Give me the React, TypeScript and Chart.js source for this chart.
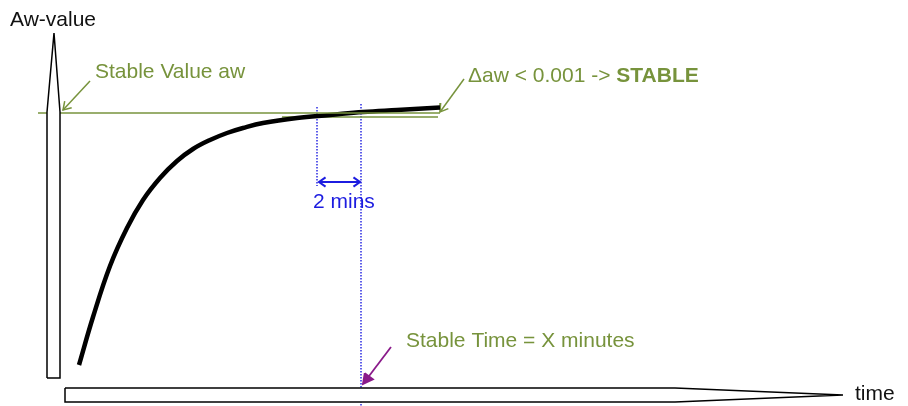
import React, { useEffect, useRef } from "react";
import { Chart, registerables } from "chart.js";

Chart.register(...registerables);

// Diagram space: x = time units (0..908, left to right), y = aw units (0..406, top to bottom)
const X_MIN = 0;
const X_MAX = 908;
const Y_MIN = 0;
const Y_MAX = 406;

// Measured aw response curve
const curveTime = [79, 93, 110, 127, 143, 160, 177, 193, 210, 227, 243, 263, 297, 330, 363, 397, 440];
const curveAw = [365, 317, 266, 228, 200, 178, 161, 149, 140, 133, 128, 123, 118, 115, 112, 110, 107.5];

// Axis arrow outlines
const yAxisX = [47, 47, 54, 60, 60, 47];
const yAxisY = [378, 112, 33, 112, 378, 378];
const xAxisX = [65, 675, 843, 675, 65, 65];
const xAxisY = [388, 388, 395, 402, 402, 388];

// Stable value reference lines
const stableLineX = [38, 440];
const stableLineY = [113, 113];
const stableBandX = [282, 438];
const stableBandY = [117, 117];

// 2-minute window markers
const windowStartX = [317, 317];
const windowStartY = [107, 186];
const windowEndX = [361, 361];
const windowEndY = [104, 406];
const windowArrowX = [319, 360];
const windowArrowY = [182, 182];

// Callout arrows [fromX, fromY, toX, toY]
const calloutStable = [90, 81, 63, 110];
const calloutDelta = [464, 79, 440, 112];
const calloutTime = [391, 347, 363, 384];

const GREEN = "#77933c";
const BLUE = "#1c1ce0";
const PURPLE = "#8a1a8a";

const labelText = ["Aw-value", "Stable Value aw", "\u0394aw < 0.001 -> ", "2 mins", "Stable Time = X minutes", "time"];
const labelX = [10, 95, 468, 313, 406, 855];
const labelY = [26, 78, 82, 208, 347, 400];
const labelColor = ["#111111", GREEN, GREEN, BLUE, GREEN, "#111111"];
const boldSuffix = "STABLE";

type P = { x: number; y: number };

const zip = (xs: number[], ys: number[]): P[] => xs.map((x, i) => ({ x, y: ys[i] }));

function headPoints(fx: number, fy: number, tx: number, ty: number, len: number, halfDeg: number, closed: boolean): P[] {
  const a = Math.atan2(ty - fy, tx - fx);
  const h = (halfDeg * Math.PI) / 180;
  const p1 = { x: tx - len * Math.cos(a - h), y: ty - len * Math.sin(a - h) };
  const p2 = { x: tx - len * Math.cos(a + h), y: ty - len * Math.sin(a + h) };
  return closed ? [p1, { x: tx, y: ty }, p2, p1] : [p1, { x: tx, y: ty }, p2];
}

function seg(data: P[], color: string, width: number, extra: any = {}) {
  return {
    data,
    borderColor: color,
    backgroundColor: color,
    borderWidth: width,
    pointRadius: 0,
    tension: 0,
    fill: false,
    ...extra,
  };
}

function arrowSets(c: number[], color: string, width: number, filled: boolean, len: number) {
  const [fx, fy, tx, ty] = c;
  return [
    seg(zip([fx, tx], [fy, ty]), color, width),
    seg(headPoints(fx, fy, tx, ty, len, filled ? 28 : 32, filled), color, width, filled ? { fill: "shape" } : {}),
  ];
}

const labelPlugin = {
  id: "labels",
  afterDatasetsDraw(chart: any) {
    const { ctx, scales } = chart;
    ctx.save();
    ctx.textBaseline = "alphabetic";
    ctx.textAlign = "left";
    labelText.forEach((t, i) => {
      const px = scales.x.getPixelForValue(labelX[i]);
      const py = scales.y.getPixelForValue(labelY[i]);
      ctx.font = "21px 'Liberation Sans', Arial, sans-serif";
      ctx.fillStyle = labelColor[i];
      ctx.fillText(t, px, py);
      if (i === 2) {
        const w = ctx.measureText(t).width;
        ctx.font = "bold 21px 'Liberation Sans', Arial, sans-serif";
        ctx.fillText(boldSuffix, px + w, py);
      }
    });
    ctx.restore();
  },
};

export default function App() {
  const ref = useRef<HTMLCanvasElement | null>(null);

  useEffect(() => {
    document.body.style.margin = "0";
    const canvas = ref.current;
    if (!canvas) return;

    const datasets: any[] = [
      seg(zip(yAxisX, yAxisY), "#000000", 1.5, { fill: "shape", backgroundColor: "#ffffff" }),
      seg(zip(xAxisX, xAxisY), "#000000", 1.5, { fill: "shape", backgroundColor: "#ffffff" }),
      seg(zip(stableLineX, stableLineY), GREEN, 1.7),
      seg(zip(curveTime, curveAw), "#000000", 4.5, { tension: 0.4, borderCapStyle: "butt" }),
      seg(zip(stableBandX, stableBandY), GREEN, 1.6),
      seg(zip(windowStartX, windowStartY), BLUE, 1.4, { borderDash: [1.5, 1.5] }),
      seg(zip(windowEndX, windowEndY), BLUE, 1.4, { borderDash: [1.5, 1.5] }),
      seg(zip(windowArrowX, windowArrowY), BLUE, 2),
      seg(headPoints(windowArrowX[1], windowArrowY[1], windowArrowX[0], windowArrowY[0], 8, 35, false), BLUE, 2),
      seg(headPoints(windowArrowX[0], windowArrowY[0], windowArrowX[1], windowArrowY[1], 8, 35, false), BLUE, 2),
      ...arrowSets(calloutStable, GREEN, 1.5, false, 9),
      ...arrowSets(calloutDelta, GREEN, 1.5, false, 9),
      ...arrowSets(calloutTime, PURPLE, 1.8, true, 11),
    ];

    const chart = new Chart(canvas, {
      type: "line",
      data: { datasets },
      options: {
        animation: false,
        responsive: false,
        devicePixelRatio: 1,
        layout: { padding: 0 },
        parsing: false as any,
        plugins: {
          legend: { display: false },
          tooltip: { enabled: false },
        },
        scales: {
          x: { type: "linear", min: X_MIN, max: X_MAX, display: false },
          y: { type: "linear", min: Y_MIN, max: Y_MAX, reverse: true, display: false },
        },
      },
      plugins: [labelPlugin],
    });

    return () => chart.destroy();
  }, []);

  return (
    <div style={{ width: 908, height: 406, background: "#ffffff" }}>
      <canvas ref={ref} width={908} height={406} />
    </div>
  );
}
